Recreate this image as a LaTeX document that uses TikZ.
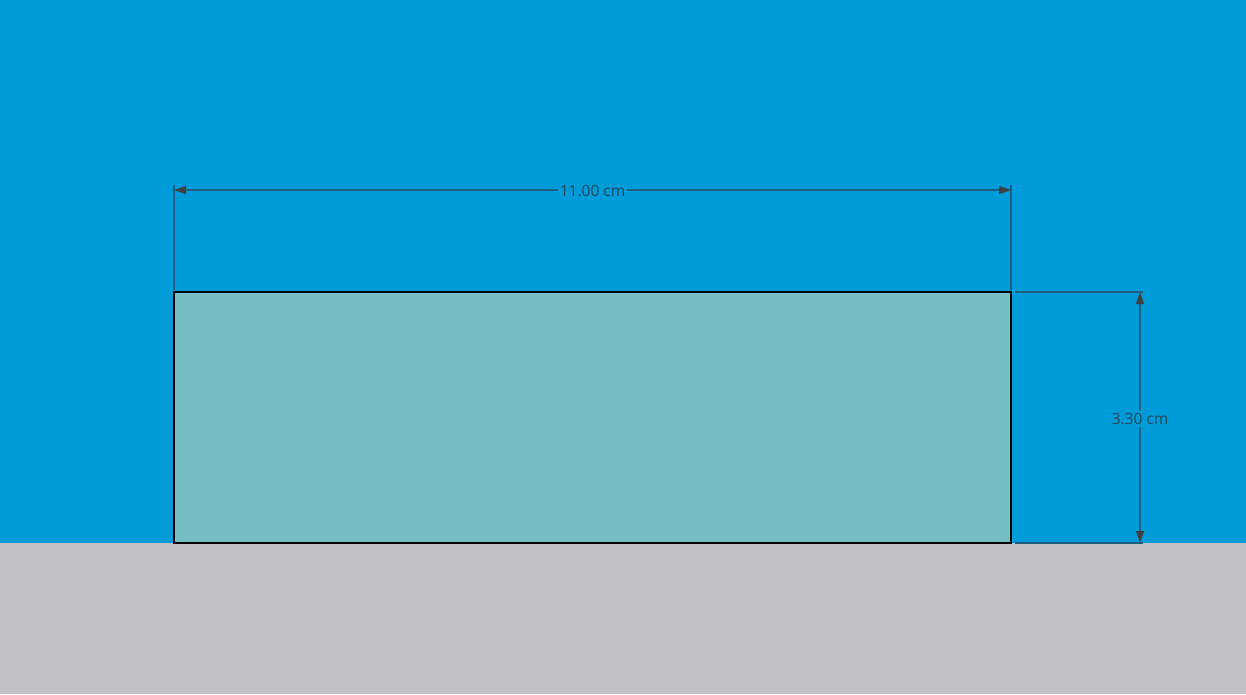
\documentclass[tikz,border=0pt]{standalone}
\usepackage{fontspec}
\setmainfont{Open Sans}
\usetikzlibrary{arrows.meta}
\definecolor{sky}{RGB}{0,155,217}
\definecolor{ground}{RGB}{192,193,197}
\definecolor{slab}{RGB}{116,191,195}
\definecolor{dimline}{RGB}{28,95,128}
\definecolor{dimarrow}{RGB}{64,64,64}
\definecolor{dimtext}{RGB}{40,70,90}
\tikzset{
  extline/.style={draw=dimline, line width=1.2pt},
  dimarr/.style={draw=dimline, line width=1.2pt, {Triangle[length=12pt,width=8pt,color=dimarrow]}-{Triangle[length=12pt,width=8pt,color=dimarrow]}},
  dimlabel/.style={fill=sky, text=dimtext, inner sep=2pt, font=\fontsize{15.5}{17}\selectfont}
}
\begin{document}
\begin{tikzpicture}[x=1pt,y=-1pt]
\useasboundingbox (0,0) rectangle (1246,694);
\fill[sky] (0,0) rectangle (1246,543);
\fill[ground] (0,543) rectangle (1246,694);
\draw[fill=slab, draw=black, line width=2pt] (174,292) rectangle (1011,543);
% horizontal dimension
\coordinate (tl) at (174,185);
\coordinate (tlb) at (174,290);
\coordinate (tr) at (1011,185);
\coordinate (trb) at (1011,290);
\draw[extline] (tl) -- (tlb);
\draw[extline] (tr) -- (trb);
\coordinate (ha) at (174,190);
\coordinate (hb) at (1011,190);
\draw[dimarr] (ha) -- (hb) node[midway, dimlabel, yshift=-1pt] (wlab) {11.00 cm};
% vertical dimension
\coordinate (e1a) at (1015,292);
\coordinate (e1b) at (1143,292);
\coordinate (e2a) at (1015,543);
\coordinate (e2b) at (1143,543);
\draw[extline] (e1a) -- (e1b);
\draw[extline] (e2a) -- (e2b);
\coordinate (va) at (1140,292);
\coordinate (vb) at (1140,543);
\draw[dimarr] (va) -- (vb) node[pos=0.502, dimlabel, yshift=-1pt] (hlab) {3.30 cm};
\end{tikzpicture}
\end{document}
